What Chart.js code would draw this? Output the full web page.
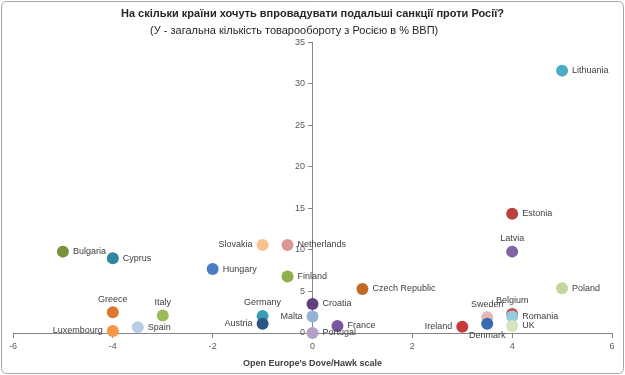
<!DOCTYPE html>
<html>
<head>
<meta charset="utf-8">
<script src="https://cdn.jsdelivr.net/npm/chart.js@4/dist/chart.umd.min.js"></script>
<style>
  html, body { margin: 0; padding: 0; background: #fff; }
  #wrap { width: 625px; height: 375px; }
</style>
</head>
<body>
<div id="wrap"><canvas id="sanctionsChart"></canvas></div>
<script>
// дані з картинки
var countries = ['Lithuania', 'Estonia', 'Latvia', 'Poland', 'Belgium', 'Romania', 'UK', 'Sweden', 'Denmark',
    'Ireland', 'Czech Republic', 'Croatia', 'Malta', 'Portugal', 'France', 'Netherlands', 'Slovakia',
    'Finland', 'Hungary', 'Germany', 'Austria', 'Bulgaria', 'Cyprus', 'Greece', 'Italy', 'Spain', 'Luxembourg'];
var hawkScale = [5, 4, 4, 5, 4, 4, 4, 3.5, 3.5,
    3, 1, 0, 0, 0, 0.5, -0.5, -1,
    -0.5, -2, -1, -1, -5, -4, -4, -3, -3.5, -4];
var tradeShare = [31.6, 14.35, 9.8, 5.4, 2.3, 2.0, 0.85, 1.9, 1.1,
    0.75, 5.3, 3.5, 2.0, 0, 0.85, 10.6, 10.6,
    6.8, 7.7, 2.05, 1.1, 9.8, 9.0, 2.5, 2.1, 0.7, 0.25];
var xTicks = [-6, -4, -2, 0, 2, 4, 6];
var yTicks = [0, 5, 10, 15, 20, 25, 30, 35];

// кольори точок і де ставити підпис (r - справа, l - зліва, t - зверху, b - знизу)
var pointColors = ['#4BACC6', '#B8403D', '#8064A2', '#C3D69B', '#C0504D', '#93CDDD', '#D7E4BD', '#E6B9B8', '#3A6BB0',
    '#C8393A', '#BF6A22', '#5F4180', '#95B3D7', '#B3A2C7', '#7B55A0', '#D99694', '#FAC090',
    '#8DB04A', '#4A7DC4', '#3C9CB0', '#2C5687', '#77933C', '#31859C', '#DD7630', '#9BBB59', '#B9CDE5', '#F79646'];
var labelPos = ['r', 'r', 't', 'r', 't', 'r', 'r', 't', 'b',
    'l', 'r', 'r', 'l', 'r', 'r', 'r', 'l',
    'r', 'r', 't', 'l', 'r', 'r', 't', 't', 'r', 'l'];

var points = hawkScale.map(function(x, i) {
    return { x: x, y: tradeShare[i] };
});

// рамка навколо всього графіка
var frame = {
    id: 'frame',
    beforeDraw: function(chart) {
        var ctx = chart.ctx;
        ctx.save();
        ctx.fillStyle = '#fff';
        ctx.fillRect(0, 0, chart.width, chart.height);
        ctx.strokeStyle = '#A6A6A6';
        ctx.lineWidth = 1;
        ctx.beginPath();
        ctx.roundRect(1.5, 1.5, chart.width - 3, chart.height - 3, 5);
        ctx.stroke();
        ctx.restore();
    }
};

// підписи країн біля точок
var pointLabels = {
    id: 'pointLabels',
    afterDatasetsDraw: function(chart) {
        var ctx = chart.ctx;
        var meta = chart.getDatasetMeta(0);
        ctx.save();
        ctx.font = '9px "Liberation Sans"';
        ctx.fillStyle = '#404040';
        meta.data.forEach(function(pt, i) {
            var x = pt.x, y = pt.y;
            var pos = labelPos[i];
            if (pos === 'r') { ctx.textAlign = 'left'; ctx.textBaseline = 'middle'; x += 10; }
            else if (pos === 'l') { ctx.textAlign = 'right'; ctx.textBaseline = 'middle'; x -= 10; }
            else if (pos === 't') { ctx.textAlign = 'center'; ctx.textBaseline = 'middle'; y -= 13; }
            else { ctx.textAlign = 'center'; ctx.textBaseline = 'middle'; y += 12; }
            ctx.fillText(countries[i], x, y);
        });
        ctx.restore();
    }
};

var ctx = document.getElementById('sanctionsChart').getContext('2d');
new Chart(ctx, {
    type: 'scatter',
    data: {
        datasets: [{
            data: points,
            backgroundColor: pointColors,
            borderWidth: 0,
            pointRadius: 6,
            pointHoverRadius: 6,
            clip: false
        }]
    },
    options: {
        responsive: true,
        maintainAspectRatio: false,
        animation: false,
        layout: { padding: { left: 13, right: 13, top: 0, bottom: 42 } },
        scales: {
            x: {
                type: 'linear',
                position: { y: 0 },
                min: -6,
                max: 6,
                afterBuildTicks: function(axis) {
                    axis.ticks = xTicks.map(function(v) { return { value: v }; });
                },
                grid: { drawOnChartArea: false, drawTicks: true, tickLength: 4, color: '#868686' },
                border: { color: '#868686' },
                ticks: { color: '#595959', font: { size: 9, family: 'Liberation Sans' }, padding: 4, maxRotation: 0 },
                title: {
                    display: true,
                    text: "Open Europe's Dove/Hawk scale",
                    color: '#404040',
                    font: { size: 9, weight: 'bold', family: 'Liberation Sans' },
                    padding: { top: 2 }
                }
            },
            y: {
                type: 'linear',
                position: { x: 0 },
                min: 0,
                max: 35,
                afterBuildTicks: function(axis) {
                    axis.ticks = yTicks.map(function(v) { return { value: v }; });
                },
                grid: { drawOnChartArea: false, drawTicks: true, tickLength: 4, color: '#868686' },
                border: { color: '#868686' },
                ticks: {
                    color: '#595959',
                    font: { size: 9, family: 'Liberation Sans' },
                    // підпис стоїть впритул до осі, тому відсуваємо його пробілами
                    callback: function(value) { return value + '   '; }
                }
            }
        },
        plugins: {
            legend: { display: false },
            tooltip: { enabled: false },
            title: {
                display: true,
                text: 'На скільки країни хочуть впровадувати подальші санкції проти Росії?',
                color: '#262626',
                font: { size: 11, weight: 'bold', family: 'Liberation Sans' },
                padding: { top: 7, bottom: 4 }
            },
            subtitle: {
                display: true,
                // у оригіналі підзаголовок трохи лівіше центру
                text: '(У - загальна кількість товарообороту з Росією в % ВВП)' + '            ',
                color: '#262626',
                font: { size: 11, family: 'Liberation Sans' },
                padding: { top: 0, bottom: 5 }
            }
        }
    },
    plugins: [frame, pointLabels]
});
</script>
</body>
</html>
